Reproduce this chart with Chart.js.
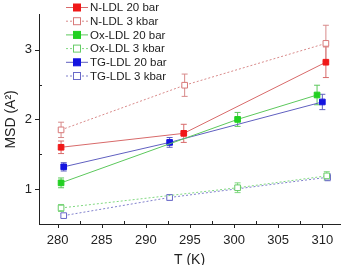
<!DOCTYPE html>
<html>
<head>
<meta charset="utf-8">
<script src="https://cdn.jsdelivr.net/npm/chart.js@4/dist/chart.umd.min.js"></script>
<style>
  html, body { margin: 0; padding: 0; background: #fff; }
  #wrap { width: 345px; height: 265px; }
</style>
</head>
<body>
<div id="wrap"><canvas id="c"></canvas></div>
<script>
// values
const seriesNames = ['N-LDL 20 bar', 'N-LDL 3 kbar', 'Ox-LDL 20 bar', 'Ox-LDL 3 kbar', 'TG-LDL 20 bar', 'TG-LDL 3 kbar'];

const nLdl20T = [280.4, 294.3, 310.4];
const nLdl20 = [1.60, 1.80, 2.82];
const nLdl20Err = [0.09, 0.13, 0.22];

const nLdl3T = [280.4, 294.4, 310.4];
const nLdl3 = [1.85, 2.49, 3.09];
const nLdl3Err = [0.11, 0.16, 0.26];

const ox20T = [280.4, 300.4, 309.4];
const ox20 = [1.09, 2.00, 2.35];
const ox20Err = [0.07, 0.10, 0.14];

const ox3T = [280.4, 300.4, 310.5];
const ox3 = [0.73, 1.02, 1.19];
const ox3Err = [0.05, 0.07, 0.06];

const tg20T = [280.7, 292.7, 310.0];
const tg20 = [1.32, 1.67, 2.25];
const tg20Err = [0.06, 0.07, 0.11];

const tg3T = [280.7, 292.7, 310.6];
const tg3 = [0.62, 0.88, 1.17];
const tg3Err = [0.03, 0.04, 0.05];

const xTicks = [280, 285, 290, 295, 300, 305, 310];
const xMinor = [282.5, 287.5, 292.5, 297.5, 302.5, 307.5];
const yTicks = [1, 2, 3];
const yMinor = [0.5, 1.5, 2.5];

function pts(xs, ys) {
  return xs.map((x, i) => ({ x: x, y: ys[i] }));
}

function makeSet(i, xs, ys, errs, lineCol, markCol, open) {
  return {
    label: seriesNames[i],
    data: pts(xs, ys),
    errs: errs,
    showLine: true,
    borderColor: lineCol,
    borderWidth: 1,
    borderDash: open ? [2, 2] : [],
    pointStyle: 'rect',
    pointRadius: 4,
    pointBackgroundColor: open ? '#fff' : markCol,
    pointBorderColor: markCol,
    pointBorderWidth: 1,
    errColor: lineCol
  };
}

const datasets = [
  makeSet(0, nLdl20T, nLdl20, nLdl20Err, '#d86a6a', '#f01818', false),
  makeSet(1, nLdl3T, nLdl3, nLdl3Err, '#d88a8a', '#d87878', true),
  makeSet(2, ox20T, ox20, ox20Err, '#5cc85c', '#22d022', false),
  makeSet(3, ox3T, ox3, ox3Err, '#80d880', '#66cc66', true),
  makeSet(4, tg20T, tg20, tg20Err, '#6060c0', '#1414e0', false),
  makeSet(5, tg3T, tg3, tg3Err, '#8080cc', '#6a6ac8', true)
];

// error bars with caps
const errorBars = {
  id: 'errorBars',
  beforeDatasetsDraw(chart) {
    const ctx = chart.ctx;
    const xs = chart.scales.x, ys = chart.scales.y;
    ctx.save();
    chart.data.datasets.forEach(ds => {
      ctx.strokeStyle = ds.errColor;
      ctx.lineWidth = 1;
      ds.data.forEach((p, i) => {
        const px = xs.getPixelForValue(p.x);
        const top = ys.getPixelForValue(p.y + ds.errs[i]);
        const bot = ys.getPixelForValue(p.y - ds.errs[i]);
        ctx.beginPath();
        ctx.moveTo(px, top); ctx.lineTo(px, bot);
        ctx.moveTo(px - 3, top); ctx.lineTo(px + 3, top);
        ctx.moveTo(px - 3, bot); ctx.lineTo(px + 3, bot);
        ctx.stroke();
      });
    });
    ctx.restore();
  }
};

// outward major/minor ticks
const tickMarks = {
  id: 'tickMarks',
  afterDraw(chart) {
    const ctx = chart.ctx;
    const xs = chart.scales.x, ys = chart.scales.y;
    const a = chart.chartArea;
    ctx.save();
    ctx.strokeStyle = '#222';
    ctx.lineWidth = 1;
    ctx.beginPath();
    xTicks.forEach(v => { const p = Math.round(xs.getPixelForValue(v)) + 0.5; ctx.moveTo(p, a.bottom); ctx.lineTo(p, a.bottom + 4); });
    xMinor.forEach(v => { const p = Math.round(xs.getPixelForValue(v)) + 0.5; ctx.moveTo(p, a.bottom); ctx.lineTo(p, a.bottom - 3); });
    yTicks.forEach(v => { const p = Math.round(ys.getPixelForValue(v)) + 0.5; ctx.moveTo(a.left, p); ctx.lineTo(a.left - 4, p); });
    yMinor.forEach(v => { const p = Math.round(ys.getPixelForValue(v)) + 0.5; ctx.moveTo(a.left, p); ctx.lineTo(a.left + 3, p); });
    ctx.stroke();
    ctx.restore();
  }
};

// legend inside the plot, line sample + marker
const innerLegend = {
  id: 'innerLegend',
  afterDraw(chart) {
    const ctx = chart.ctx;
    ctx.save();
    ctx.font = '11.5px "Liberation Sans", Arial, sans-serif';
    ctx.textBaseline = 'middle';
    chart.data.datasets.forEach((ds, i) => {
      const y = 7.5 + i * 13.7;
      ctx.strokeStyle = ds.borderColor;
      ctx.lineWidth = 1;
      ctx.setLineDash(ds.borderDash);
      ctx.beginPath();
      ctx.moveTo(66, y); ctx.lineTo(88, y);
      ctx.stroke();
      ctx.setLineDash([]);
      ctx.fillStyle = ds.pointBackgroundColor;
      ctx.fillRect(73.5, y - 3.5, 7, 7);
      ctx.strokeStyle = ds.pointBorderColor;
      ctx.strokeRect(73.5, y - 3.5, 7, 7);
      ctx.fillStyle = '#222';
      ctx.fillText(ds.label, 90, y + 0.5);
    });
    ctx.restore();
  }
};

new Chart(document.getElementById('c'), {
  type: 'scatter',
  data: { datasets: datasets },
  plugins: [errorBars, tickMarks, innerLegend],
  options: {
    responsive: true,
    maintainAspectRatio: false,
    animation: false,
    layout: { padding: { top: 0, right: 3, left: 0, bottom: 0 } },
    plugins: { legend: { display: false }, tooltip: { enabled: false } },
    scales: {
      x: {
        type: 'linear',
        min: 277.9,
        max: 312,
        afterBuildTicks: s => { s.ticks = xTicks.map(v => ({ value: v })); },
        afterFit: s => { s.height = 41; },
        grid: { display: false, drawTicks: false },
        border: { display: true, color: '#222', width: 1 },
        ticks: { color: '#222', font: { size: 13 }, padding: 9 },
        title: { display: true, text: 'T (K)', color: '#222', font: { size: 14 }, padding: { top: 0, bottom: -4 } }
      },
      y: {
        min: 0.5,
        max: 3.5,
        afterBuildTicks: s => { s.ticks = yTicks.map(v => ({ value: v })); },
        afterFit: s => { s.width = 39; },
        grid: { display: false, drawTicks: false },
        border: { display: true, color: '#222', width: 1 },
        ticks: { color: '#222', font: { size: 13 }, padding: 7 },
        title: { display: true, text: 'MSD (A\u00B2)', color: '#222', font: { size: 14 }, padding: { top: 3, bottom: 2 } }
      }
    }
  }
});
</script>
</body>
</html>
